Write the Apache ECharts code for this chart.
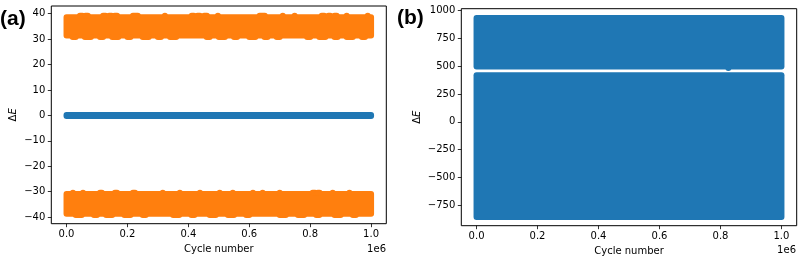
<!DOCTYPE html>
<html>
<head>
<meta charset="utf-8">
<script src="https://cdn.jsdelivr.net/npm/echarts@6/dist/echarts.min.js"></script>
<style>
html,body{margin:0;padding:0;background:#fff;}
#chart{width:807px;height:261px;}
</style>
</head>
<body>
<div id="chart"></div>
<script>
// ---------- data ----------
// x values in cycles; bands are [xStart, xEnd, yLow, yHigh]
const xTicks = [0, 200000, 400000, 600000, 800000, 1000000];
const aYTicks = [-40, -30, -20, -10, 0, 10, 20, 30, 40];
const bYTicks = [-750, -500, -250, 0, 250, 500, 750, 1000];

// panel (a): blue series ΔE ≈ 0
const aBlueBand = [[0, 1000000, -0.25, 0.15]];
// panel (a): orange series, two bands
const aOrangeUpper = [[0, 1000000, 31.4, 38.6]];
const aOrangeLower = [[0, 1000000, -38.7, -30.9]];
// sparse extreme points along band edges: [xStart, xEnd] (units of 1e6) and the extreme ΔE
const aUpperTopBumpX = [[0.044,0.052],[0.062,0.070],[0.120,0.128],[0.140,0.148],[0.158,0.166],[0.218,0.234],[0.323,0.323],[0.411,0.418],[0.430,0.438],[0.452,0.461],[0.497,0.497],[0.634,0.651],[0.710,0.710],[0.749,0.749],[0.838,0.846],[0.860,0.866],[0.880,0.887],[0.920,0.920],[0.989,0.989]];
const aUpperTopBumpY = 39.2;
const aUpperBotBumpX = [[0.02,0.03],[0.06,0.08],[0.11,0.12],[0.15,0.17],[0.20,0.21],[0.25,0.27],[0.30,0.31],[0.34,0.36],[0.46,0.47],[0.50,0.52],[0.55,0.56],[0.60,0.62],[0.65,0.66],[0.69,0.70],[0.79,0.80],[0.83,0.85],[0.88,0.89],[0.92,0.94],[0.97,0.98]];
const aUpperBotBumpY = 30.8;
const aLowerTopBumpX = [[0.021,0.021],[0.054,0.054],[0.110,0.116],[0.159,0.166],[0.218,0.225],[0.316,0.316],[0.372,0.372],[0.438,0.438],[0.503,0.503],[0.546,0.546],[0.612,0.612],[0.644,0.644],[0.700,0.700],[0.808,0.816],[0.825,0.831],[0.874,0.874],[0.929,0.929]];
const aLowerTopBumpY = -30.4;
const aLowerBotBumpX = [[0.03,0.05],[0.09,0.10],[0.13,0.15],[0.19,0.21],[0.25,0.26],[0.35,0.37],[0.41,0.42],[0.47,0.49],[0.53,0.55],[0.59,0.60],[0.70,0.72],[0.76,0.78],[0.82,0.83],[0.88,0.90],[0.94,0.95]];
const aLowerBotBumpY = -39.2;

// panel (b): blue series, two bands with a thin gap
const bBlueUpper = [[0, 1000000, 497, 931]];
const bBlueLower = [[0, 1000000, -855, 417]];
const bBlueOutlier = [[826000, 826000, 482, 482]];

// ---------- chart ----------
const MARKER_R = 3;
const FONT = "'DejaVu Sans', sans-serif";
const BLUE = '#1f77b4', ORANGE = '#ff7f0e';

function bumps(list, y) {
  return list.map(p => [p[0] * 1e6, p[1] * 1e6, y, y]);
}
function bandItem(params, api) {
  const p1 = api.coord([api.value(0), api.value(3)]);
  const p2 = api.coord([api.value(1), api.value(2)]);
  const r = MARKER_R;
  return {
    type: 'rect',
    shape: { x: p1[0] - r, y: p1[1] - r, width: p2[0] - p1[0] + 2 * r, height: p2[1] - p1[1] + 2 * r, r: r },
    style: { fill: api.visual('color') }
  };
}
function band(idx, data, color) {
  return {
    type: 'custom', xAxisIndex: idx, yAxisIndex: idx, renderItem: bandItem,
    itemStyle: { color: color }, data: data, encode: { x: [0, 1], y: [2, 3] },
    silent: true, animation: false, clip: false
  };
}
const minus = v => String(v).replace('-', '\u2212');

function xAxis(idx) {
  return {
    type: 'value', gridIndex: idx, min: -50000, max: 1050000, position: 'bottom',
    name: 'Cycle number', nameLocation: 'middle', nameGap: 21,
    nameTextStyle: { fontFamily: FONT, fontSize: 10, color: '#000' },
    axisLine: { show: false, onZero: false }, splitLine: { show: false },
    axisTick: { show: true, length: 3.5, customValues: xTicks, lineStyle: { color: '#000', width: 0.8 } },
    axisLabel: { customValues: xTicks, margin: 6, fontFamily: FONT, fontSize: 10, color: '#000',
      formatter: v => (v / 1e6).toFixed(1) }
  };
}
function yAxis(idx, min, max, ticks, gap) {
  return {
    type: 'value', gridIndex: idx, min: min, max: max, position: 'left',
    name: '{d|\u0394}{e|E}', nameLocation: 'middle', nameGap: gap, nameRotate: 90,
    nameTextStyle: { fontFamily: FONT, fontSize: 10, color: '#000',
      rich: { d: { fontFamily: FONT, fontSize: 10, color: '#000' },
              e: { fontFamily: FONT, fontSize: 10, color: '#000', fontStyle: 'italic' } } },
    axisLine: { show: false, onZero: false }, splitLine: { show: false },
    axisTick: { show: true, length: 3.5, customValues: ticks, lineStyle: { color: '#000', width: 0.8 } },
    axisLabel: { customValues: ticks, margin: 6, fontFamily: FONT, fontSize: 10, color: '#000', formatter: minus }
  };
}

const chart = echarts.init(document.getElementById('chart'), null, { renderer: 'canvas' });
chart.setOption({
  animation: false,
  backgroundColor: '#fff',
  grid: [
    { left: 51.3, top: 6, width: 335, height: 217.7, show: true, borderColor: '#000', borderWidth: 1, backgroundColor: 'transparent', outerBoundsMode: 'none' },
    { left: 461.3, top: 8.7, width: 335.4, height: 217, show: true, borderColor: '#000', borderWidth: 1, backgroundColor: 'transparent', outerBoundsMode: 'none' }
  ],
  xAxis: [xAxis(0), xAxis(1)],
  yAxis: [yAxis(0, -42.6, 43.0, aYTicks, 33), yAxis(1, -933, 1015, bYTicks, 39)],
  series: [
    band(0, aBlueBand, BLUE),
    band(0, aOrangeUpper.concat(bumps(aUpperTopBumpX, aUpperTopBumpY), bumps(aUpperBotBumpX, aUpperBotBumpY)), ORANGE),
    band(0, aOrangeLower.concat(bumps(aLowerTopBumpX, aLowerTopBumpY), bumps(aLowerBotBumpX, aLowerBotBumpY)), ORANGE),
    band(1, bBlueUpper.concat(bBlueOutlier), BLUE),
    band(1, bBlueLower, BLUE)
  ],
  graphic: [
    { type: 'text', x: 0, y: 19, style: { text: '(a)', font: "bold 21px 'Liberation Sans', Arial, sans-serif", fill: '#000', verticalAlign: 'middle', align: 'left' } },
    { type: 'text', x: 397, y: 18.5, style: { text: '(b)', font: "bold 21px 'Liberation Sans', Arial, sans-serif", fill: '#000', verticalAlign: 'middle', align: 'left' } },
    { type: 'text', x: 386, y: 249, style: { text: '1e6', font: "10px 'DejaVu Sans', sans-serif", fill: '#000', verticalAlign: 'middle', align: 'right' } },
    { type: 'text', x: 796, y: 250, style: { text: '1e6', font: "10px 'DejaVu Sans', sans-serif", fill: '#000', verticalAlign: 'middle', align: 'right' } }
  ]
});
</script>
</body>
</html>
